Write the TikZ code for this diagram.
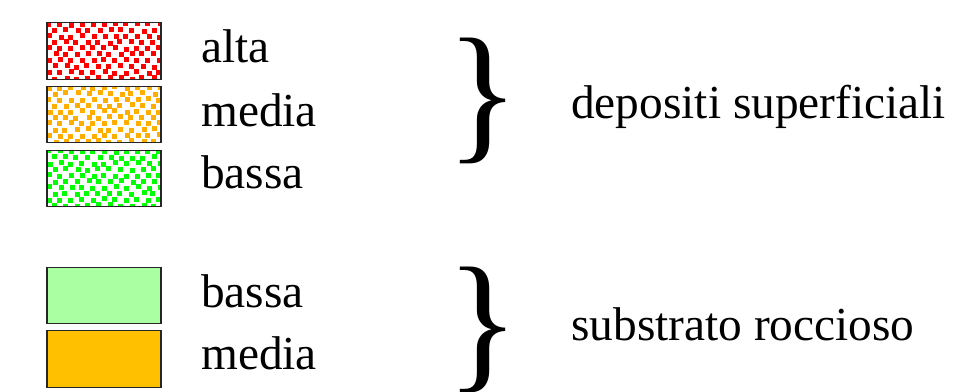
\documentclass[tikz,border=0pt]{standalone}
\usepackage{fontspec}
\setmainfont{Liberation Serif}
\usetikzlibrary{positioning}

\definecolor{altac}{RGB}{255,0,0}
\definecolor{mediac}{RGB}{255,174,0}
\definecolor{bassac}{RGB}{0,255,0}
\definecolor{rocbassa}{RGB}{170,255,162}
\definecolor{rocmedia}{RGB}{255,192,0}

\begin{document}
\pgfmathsetseed{7}
\begin{tikzpicture}[x=0.75pt,y=-0.75pt,
   legbox/.style={rectangle, minimum width=85.5pt, minimum height=42.5pt, inner sep=0, draw=black!85, line width=0.9pt},
   dots/.style={path picture={
      \foreach \r in {0,...,10}{
        \foreach \c in {-1,...,10}{
          \pgfmathsetmacro\dx{\c*11+mod(\r,2)*5.5+rnd*3-1.5}
          \pgfmathsetmacro\dy{\r*6-2+rnd*2}
          \fill[#1] ([shift={(\dx,\dy)}]path picture bounding box.north west) rectangle ++(5,5);
        }}}},
   lab/.style={anchor=base west, inner sep=0},
   brace/.style={font=\fontsize{114}{120}\selectfont, inner sep=0}]
   \useasboundingbox (0,0) rectangle (970,392);
   \begin{scope}[font=\fontsize{35.5}{40}\selectfont]
   % depositi superficiali
   \node (alta) at (104,51) [legbox, dots=altac] {};
   \node (media) at (104,114.5) [legbox, dots=mediac] {};
   \node (bassa) at (104,178.5) [legbox, dots=bassac] {};
   \node (talta) at (201,63) [lab] {alta};
   \node (tmedia) at (201,126.5) [lab] {media};
   \node (tbassa) at (201,189) [lab] {bassa};
   \node (gdep) at (483,101) [brace] {\}};
   \node (tdep) at (571,119) [lab] {depositi superficiali};
   % substrato roccioso
   \node (rbassa) at (104,295.5) [legbox, fill=rocbassa] {};
   \node (rmedia) at (104,359) [legbox, fill=rocmedia] {};
   \node (trbassa) at (201,307) [lab] {bassa};
   \node (trmedia) at (201,369.5) [lab] {media};
   \node (gsub) at (483,330) [brace] {\}};
   \node (tsub) at (571,340) [lab] {substrato roccioso};
   \end{scope}
\end{tikzpicture}
\end{document}
